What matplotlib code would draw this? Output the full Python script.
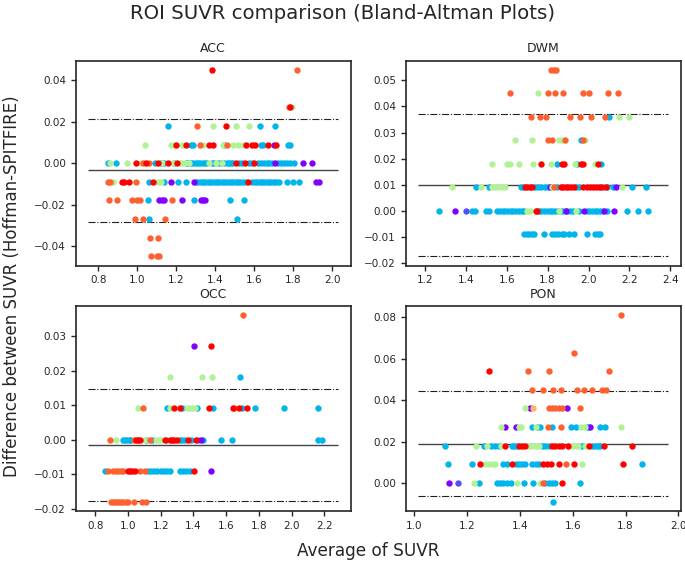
import matplotlib
matplotlib.use("Agg")
import matplotlib.pyplot as plt
from matplotlib.ticker import MultipleLocator

# colour groups (rainbow colormap samples)
COLORS = {"P": "#8000ff", "B": "#4d50fc", "C": "#00b4ec", "G": "#b2f296",
          "L": "#ffb462", "O": "#ff6030", "R": "#ff0000"}
DRAW_ORDER = ["C", "B", "P", "G", "L", "O", "R"]

# rows: (difference, colour group, [average SUVR values])
acc_rows = [
    (0.045, "R", [1.381]), (0.045, "O", [1.82]),
    (0.027, "G", [1.79]), (0.027, "O", [1.776]), (0.027, "R", [1.782]),
    (0.018, "C", [1.156, 1.626, 1.706]), (0.018, "O", [1.304]),
    (0.018, "G", [1.386, 1.506, 1.574]), (0.018, "R", [1.455]),
    (0.009, "C", [1.275, 1.284, 1.443, 1.634, 1.643, 1.77, 1.78]),
    (0.009, "P", [1.70]),
    (0.009, "G", [1.04, 1.172, 1.186, 1.229, 1.335, 1.437, 1.489, 1.518, 1.54]),
    (0.009, "O", [1.32, 1.458]),
    (0.009, "R", [1.199, 1.249, 1.369, 1.386, 1.557, 1.586, 1.605, 1.668, 1.71]),
    (0.0, "C", [0.848, 0.89, 1.089, 1.12, 1.135, 1.19, 1.25, 1.262, 1.274, 1.286,
                1.298, 1.31, 1.322, 1.334, 1.346, 1.358, 1.38, 1.392, 1.415, 1.427,
                1.445, 1.457, 1.469, 1.48, 1.492, 1.52, 1.535, 1.57, 1.585, 1.62,
                1.634, 1.648, 1.662, 1.676, 1.69, 1.72, 1.735, 1.75, 1.765, 1.78, 1.805]),
    (0.0, "P", [1.703, 1.848, 1.894]),
    (0.0, "G", [0.86, 0.946, 1.019, 1.127, 1.181, 1.216, 1.23, 1.245, 1.265,
                1.369, 1.404, 1.434]),
    (0.0, "O", [1.028, 1.062]),
    (0.0, "R", [0.993, 1.045, 1.104, 1.156, 1.202, 1.506, 1.554, 1.6]),
    (-0.009, "C", [1.058, 1.137, 1.207, 1.25, 1.30, 1.312, 1.324, 1.336, 1.348,
                   1.36, 1.372, 1.384, 1.396, 1.408, 1.42, 1.432, 1.444, 1.456,
                   1.468, 1.48, 1.492, 1.504, 1.516, 1.528, 1.54, 1.555, 1.59,
                   1.602, 1.614, 1.626, 1.638, 1.65, 1.662, 1.674, 1.686, 1.698,
                   1.71, 1.728, 1.768, 1.797, 1.827]),
    (-0.009, "P", [1.173, 1.292, 1.916, 1.93]),
    (-0.009, "G", [0.874, 1.104, 1.121]),
    (-0.009, "O", [0.852, 0.862, 0.993]),
    (-0.009, "R", [0.921, 0.933, 0.956, 1.082, 1.567]),
    (-0.018, "C", [1.055, 1.292, 1.475, 1.545]),
    (-0.018, "P", [1.113, 1.127, 1.139, 1.229, 1.326, 1.338, 1.348]),
    (-0.018, "O", [0.853, 0.896, 0.973, 1.0, 1.013, 1.178]),
    (-0.027, "C", [1.061, 1.51]), (-0.027, "O", [0.99, 1.031, 1.142]),
    (-0.036, "O", [1.065, 1.104]),
    (-0.045, "O", [1.07, 1.1, 1.111]),
]

dwm_rows = [
    (0.054, "O", [1.817, 1.83, 1.842]),
    (0.045, "O", [1.614, 1.803, 1.835, 1.874, 1.974, 2.003, 2.094, 2.145]),
    (0.045, "G", [1.754]),
    (0.036, "O", [1.72, 1.765, 1.79, 1.908, 1.957, 2.01, 2.08]),
    (0.036, "C", [2.1]), (0.036, "G", [2.148, 2.197]),
    (0.027, "G", [1.643, 1.724, 1.855, 1.868, 1.985]), (0.027, "C", [1.965]),
    (0.027, "O", [1.80, 1.822, 1.884, 1.974]),
    (0.018, "G", [1.529, 1.602, 1.618, 1.659, 1.728, 1.817, 1.936, 2.03]),
    (0.018, "C", [1.847, 1.944, 2.063]),
    (0.018, "R", [1.768, 1.871, 1.882, 1.961, 1.972, 2.047]),
    (0.009, "C", [1.451, 1.513, 1.668, 1.68, 1.74, 1.755, 1.77, 1.785, 1.80, 1.845,
                  1.94, 1.955, 2.07, 2.09, 2.12, 2.213, 2.28]),
    (0.009, "P", [1.814, 2.132]),
    (0.009, "G", [1.334, 1.475, 1.53, 1.545, 1.56, 1.575, 1.59, 1.822, 2.164]),
    (0.009, "O", [1.83]),
    (0.009, "R", [1.69, 1.70, 1.712, 1.725, 1.863, 1.875, 1.888, 1.90, 1.915, 1.928,
                  1.975, 1.99, 2.005, 2.02, 2.035, 2.05, 2.06, 2.083]),
    (0.0, "C", [1.268, 1.43, 1.445, 1.497, 1.513, 1.554, 1.567, 1.58, 1.593, 1.606,
                1.62, 1.633, 1.646, 1.66, 1.673, 1.686, 1.757, 1.77, 1.783, 1.796,
                1.81, 1.823, 1.836, 1.85, 1.87, 1.883, 1.896, 1.91, 1.923, 1.955,
                1.99, 2.003, 2.016, 2.03, 2.043, 2.056, 2.07, 2.09, 2.19, 2.24, 2.29]),
    (0.0, "P", [1.35, 1.89, 1.977, 2.075, 2.124]),
    (0.0, "B", [1.399]),
    (0.0, "G", [1.70, 1.715, 1.858, 1.94]),
    (0.0, "R", [1.744, 1.75]),
    (-0.009, "C", [1.687, 1.70, 1.71, 1.722, 1.733, 1.781, 1.822, 1.835, 1.85, 1.868,
                   1.88, 1.903, 1.928, 1.993, 2.03, 2.045, 2.055]),
]

occ_rows = [
    (0.036, "O", [1.701]),
    (0.027, "P", [1.403]), (0.027, "R", [1.505]),
    (0.018, "G", [1.256, 1.45, 1.511]), (0.018, "C", [1.683]),
    (0.009, "C", [1.239, 1.33, 1.423, 1.517, 1.70, 1.777, 1.951, 2.163]),
    (0.009, "G", [1.06, 1.256, 1.36, 1.375, 1.39, 1.41]),
    (0.009, "O", [1.092, 1.648]),
    (0.009, "R", [1.284, 1.317, 1.495, 1.644, 1.679, 1.726]),
    (0.0, "C", [0.97, 0.983, 0.996, 1.01, 1.015, 1.113, 1.15, 1.235, 1.317, 1.33,
                1.348, 1.385, 1.43, 1.46, 1.568, 1.638, 2.16, 2.186]),
    (0.0, "P", [1.444]),
    (0.0, "G", [0.925, 1.102, 1.174, 1.19, 1.205]),
    (0.0, "O", [0.892, 1.035, 1.137]),
    (0.0, "R", [1.051, 1.062, 1.072, 1.225, 1.256, 1.27, 1.284, 1.297, 1.368, 1.413]),
    (-0.009, "C", [0.857, 1.123, 1.143, 1.16, 1.18, 1.2, 1.22, 1.24, 1.256,
                   1.317, 1.337, 1.357, 1.378]),
    (-0.009, "P", [1.505]),
    (-0.009, "O", [0.878, 0.908, 0.925, 0.94, 0.955, 0.97, 1.072, 1.102]),
    (-0.009, "R", [1.0, 1.012, 1.025, 1.041, 1.403]),
    (-0.018, "O", [0.898, 0.91, 0.922, 0.935, 0.947, 0.96, 0.972, 0.985, 1.0,
                   1.035, 1.088, 1.113]),
]

pon_rows = [
    (0.081, "O", [1.782]),
    (0.063, "O", [1.604]),
    (0.054, "R", [1.283]), (0.054, "O", [1.431, 1.512, 1.736]),
    (0.045, "O", [1.447, 1.487, 1.526, 1.556, 1.616, 1.644, 1.674, 1.71, 1.727]),
    (0.036, "G", [1.42]), (0.036, "P", [1.44, 1.579]), (0.036, "L", [1.45]),
    (0.036, "O", [1.509, 1.52, 1.533, 1.547, 1.56, 1.629]),
    (0.027, "C", [1.447, 1.467, 1.478, 1.52, 1.594, 1.614, 1.655, 1.662, 1.705, 1.724]),
    (0.027, "P", [1.346, 1.384, 1.667]),
    (0.027, "G", [1.33, 1.397, 1.405, 1.46, 1.632, 1.648, 1.784]),
    (0.027, "O", [1.507, 1.556]),
    (0.018, "C", [1.116, 1.264, 1.29, 1.305, 1.32, 1.371, 1.38, 1.39, 1.484, 1.496,
                  1.509, 1.635, 1.673, 1.685, 1.695, 1.704]),
    (0.018, "G", [1.233, 1.277, 1.33, 1.434, 1.446, 1.46, 1.472, 1.597, 1.61,
                  1.622, 1.645]),
    (0.018, "R", [1.346, 1.396, 1.408, 1.421, 1.522, 1.535, 1.547, 1.56, 1.582,
                  1.66, 1.717, 1.826]),
    (0.009, "C", [1.13, 1.22, 1.336, 1.352, 1.384, 1.396, 1.408, 1.421, 1.447, 1.46,
                  1.472, 1.862]),
    (0.009, "G", [1.27, 1.285, 1.3, 1.308, 1.635]),
    (0.009, "O", [1.575]),
    (0.009, "R", [1.249, 1.369, 1.488, 1.503, 1.518, 1.547, 1.604, 1.792]),
    (0.0, "C", [1.245, 1.314, 1.326, 1.338, 1.352, 1.365, 1.415, 1.45, 1.497, 1.51,
                1.522, 1.535, 1.629]),
    (0.0, "P", [1.134]), (0.0, "B", [1.166]),
    (0.0, "G", [1.226, 1.39, 1.478]),
    (0.0, "O", [1.488]), (0.0, "R", [1.56]),
    (-0.009, "C", [1.526]),
]

panel_names = ["ACC", "DWM", "OCC", "PON"]
panel_rows = [acc_rows, dwm_rows, occ_rows, pon_rows]
# mean difference and limits of agreement (lower, upper)
mean_diff = [-0.0034, 0.0098, -0.0015, 0.0190]
loa_lower = [-0.0285, -0.0175, -0.0179, -0.0063]
loa_upper = [0.0212, 0.0370, 0.0147, 0.0444]

fig = plt.figure(figsize=(6.85, 5.63), dpi=100)
W, H = 0.4017, 0.3641
positions = [(0.1105, 0.5281), (0.5923, 0.5281), (0.1105, 0.0924), (0.5923, 0.0924)]

for i, name in enumerate(panel_names):
    ax = fig.add_axes([positions[i][0], positions[i][1], W, H])
    rows = panel_rows[i]
    allx = []
    for code in DRAW_ORDER:
        xs, ys = [], []
        for d, c, vals in rows:
            if c == code:
                xs.extend(vals)
                ys.extend([d] * len(vals))
        allx.extend(xs)
        if xs:
            ax.scatter(xs, ys, s=21, c=COLORS[code], linewidths=0, zorder=2)
    x0, x1 = min(allx) - 0.1, max(allx) + 0.1
    ax.hlines(mean_diff[i], x0, x1, colors="#444444", linewidth=1.0, zorder=1)
    ax.hlines([loa_lower[i], loa_upper[i]], x0, x1, colors="#222222",
              linestyles="-.", linewidth=0.8, zorder=1)
    ax.xaxis.set_major_locator(MultipleLocator(0.2))
    ax.set_title(name, fontsize=9, pad=6, color="#262626")
    ax.tick_params(labelsize=7.5, length=3.5, width=1.0, colors="#262626")
    for sp in ax.spines.values():
        sp.set_linewidth(1.2)
        sp.set_color("#262626")

fig.suptitle("ROI SUVR comparison (Bland-Altman Plots)", fontsize=14.2, y=0.993,
             color="#262626")
fig.text(0.537, 0.021, "Average of SUVR", ha="center", va="center", fontsize=12.2,
         color="#262626")
fig.text(0.018, 0.492, "Difference between SUVR (Hoffman-SPITFIRE)", ha="center",
         va="center", rotation=90, fontsize=12, color="#262626")

fig.savefig("out.png", dpi=100)
